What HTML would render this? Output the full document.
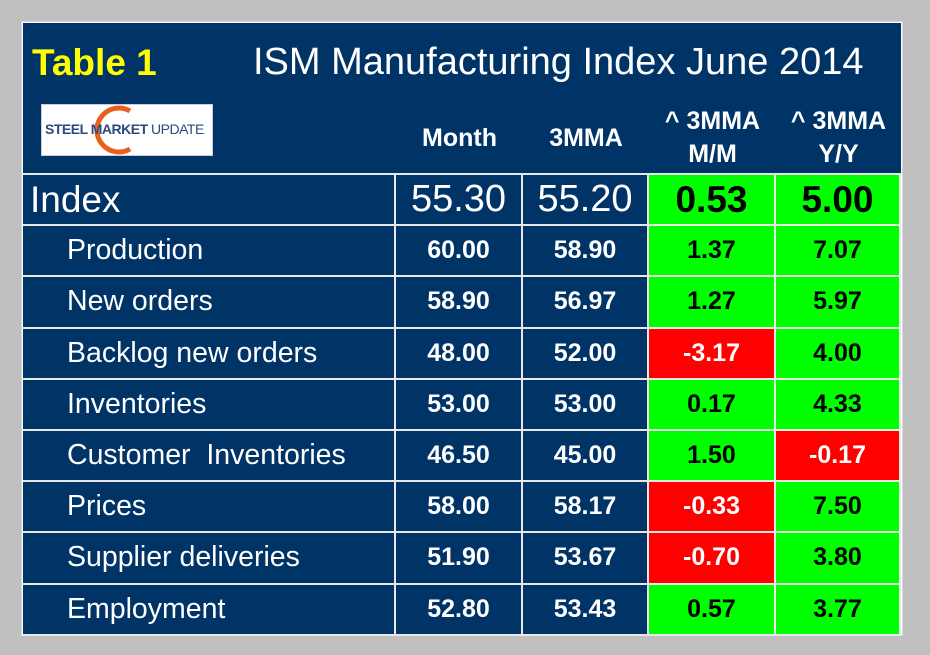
<!DOCTYPE html>
<html><head><meta charset="utf-8"><style>
body{margin:0;width:930px;height:655px;background:#c0c0c0;position:relative;overflow:hidden;font-family:"Liberation Sans",Arial,sans-serif}
#frame{position:absolute;left:21px;top:21px;width:882px;height:615px;background:#fff;box-sizing:border-box;border:1px solid #d8d8d8}
#panel{position:absolute;left:23px;top:23px;width:878px;height:611px;background:#003366}
.c{position:absolute;box-sizing:border-box;display:flex;align-items:center;justify-content:center;color:#fff;border-right:2px solid #e8e8e8;border-bottom:2px solid #e8e8e8}
.hd{position:absolute;color:#fff;font-weight:bold;font-size:25px;text-align:center;line-height:33px}
</style></head><body>
<div id="frame"></div>
<div id="panel"></div>
<div style="position:absolute;left:32px;top:42px;color:#ffff00;font-weight:bold;font-size:37px">Table 1</div>
<div style="position:absolute;left:253px;top:41px;color:#fff;font-size:38px">ISM Manufacturing Index June 2014</div>
<div style="position:absolute;left:41px;top:104px;width:170px;height:50px;background:#fff;border:1px solid #ccd">
<svg width="170" height="50" style="position:absolute;left:0;top:0"><path d="M88 6 A22 22 0 1 0 88 44" fill="none" stroke="#e8601c" stroke-width="5"/></svg>
<span style="position:absolute;left:3px;top:16px;font-size:14px;font-weight:bold;color:#2a4a80;white-space:nowrap;letter-spacing:-0.5px">STEEL MARKET <span style="font-weight:normal">UPDATE</span></span></div>
<div class="hd" style="left:396px;top:122px;width:127px">Month</div>
<div class="hd" style="left:523px;top:122px;width:126px">3MMA</div>
<div class="hd" style="left:649px;top:105px;width:127px">^ 3MMA<br>M/M</div>
<div class="hd" style="left:776px;top:105px;width:125px">^ 3MMA<br>Y/Y</div>
<div style="position:absolute;left:23px;top:173px;width:878px;height:2px;background:#e8e8e8"></div>
<div id="rows"></div>
<script>
const labels=["Index","Production","New orders","Backlog new orders","Inventories","Customer  Inventories","Prices","Supplier deliveries","Employment"];
const month=["55.30","60.00","58.90","48.00","53.00","46.50","58.00","51.90","52.80"];
const mma=["55.20","58.90","56.97","52.00","53.00","45.00","58.17","53.67","53.43"];
const mm=["0.53","1.37","1.27","-3.17","0.17","1.50","-0.33","-0.70","0.57"];
const yy=["5.00","7.07","5.97","4.00","4.33","-0.17","7.50","3.80","3.77"];
const cols=[23,396,523,649,776,901];
const root=document.getElementById('rows');
function cell(x,y,w,h,txt,style){const d=document.createElement('div');d.className='c';d.style.cssText+=`left:${x}px;top:${y}px;width:${w}px;height:${h}px;`+style;d.textContent=txt;root.appendChild(d);return d;}
labels.forEach((lab,i)=>{
 const y=175+i*51.2,h=51.2,big=i===0;
 const l=cell(cols[0],y,cols[1]-cols[0],h,lab,`justify-content:flex-start;padding-left:${big?7:44}px;font-size:${big?37:28.5}px;white-space:pre;`);
 
 
 const nf=big?'font-size:38px;':'font-size:25px;font-weight:bold;';
 const a=cell(cols[1],y,cols[2]-cols[1],h,month[i],nf);
 
 
 const b=cell(cols[2],y,cols[3]-cols[2],h,mma[i],nf);
 
 
 [[mm,3,'mm-change'],[yy,4,'yy-change']].forEach(([arr,k,nm])=>{
  const neg=parseFloat(arr[i])<0;
  const c=cell(cols[k],y,cols[k+1]-cols[k],h,arr[i],`background:${neg?'#ff0000':'#00ff00'};color:${neg?'#fff':'#000'};font-weight:bold;font-size:${big?37:25}px;`);
  
  
 });
});
</script>
</body></html>
